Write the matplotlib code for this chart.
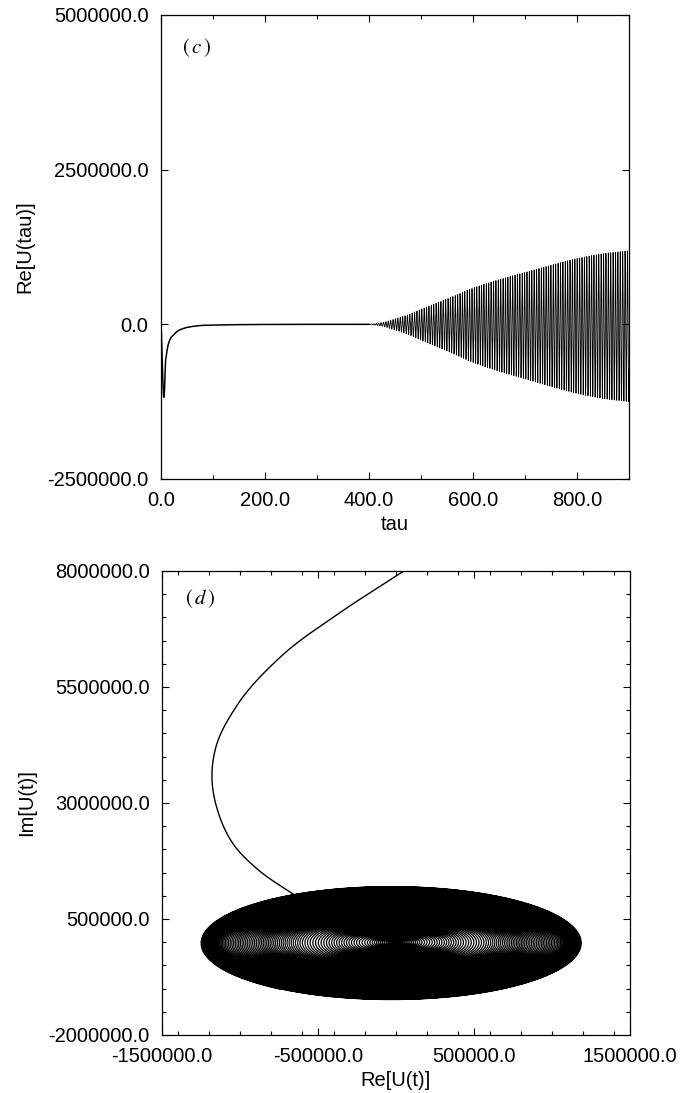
import numpy as np
import matplotlib
matplotlib.use("Agg")
import matplotlib.pyplot as plt
from matplotlib.ticker import FixedLocator, FormatStrFormatter, MultipleLocator

plt.rcParams['font.family'] = ['Liberation Sans', 'DejaVu Sans']
plt.rcParams['mathtext.fontset'] = 'stix'

# ---------------- data (units of 1e6) ----------------
# early transient of U(tau): tau, Re, Im
trans_tau = [0, 1.43, 2.84, 4.06, 4.94, 5.47, 6.18, 6.86, 7.52, 8.3,
             10, 13, 17, 23, 30, 42, 60, 75, 100, 150, 200, 300, 400]
trans_re = [0.05, -0.36, -0.74, -1.02, -1.155, -1.18, -1.14, -1.04, -0.88,
            -0.66,
            -0.52, -0.36, -0.25, -0.18, -0.12, -0.07, -0.035, -0.02, -0.012,
            -0.005, -0.002, 0.0, 0.0]
trans_im = [8.0, 7.1, 6.15, 5.1, 4.2, 3.6, 2.8, 2.1, 1.55, 1.04,
            0.75, 0.45, 0.28, 0.17, 0.10, 0.05, 0.025, 0.015, 0.008, 0.003,
            0.001, 0.0, 0.0]

# envelope of the growing oscillation
env_tau = [400, 425, 450, 475, 500, 550, 600, 650, 700, 750, 800, 850, 900]
env_amp = [0.0, 0.03, 0.09, 0.16, 0.25, 0.42, 0.60, 0.74, 0.86, 0.98, 1.09, 1.17, 1.22]
osc_period = 4.6
osc_center = (-0.03, -0.02)

# axis ticks
c_xticks = [0, 200, 400, 600, 800]
c_yticks = [-2.5e6, 0.0, 2.5e6, 5.0e6]
d_xticks = [-1.5e6, -0.5e6, 0.5e6, 1.5e6]
d_yticks = [-2.0e6, 0.5e6, 3.0e6, 5.5e6, 8.0e6]


def smooth(x, xk, yk):
    """cubic Hermite curve through the read points (for drawing only)."""
    xk = np.asarray(xk, float)
    yk = np.asarray(yk, float)
    x = np.clip(x, xk[0], xk[-1])
    m = np.gradient(yk, xk)
    i = np.clip(np.searchsorted(xk, x, side='right') - 1, 0, len(xk) - 2)
    h = xk[i + 1] - xk[i]
    s = (x - xk[i]) / h
    h00 = 2 * s**3 - 3 * s**2 + 1
    h10 = s**3 - 2 * s**2 + s
    h01 = -2 * s**3 + 3 * s**2
    h11 = s**3 - s**2
    return h00 * yk[i] + h10 * h * m[i] + h01 * yk[i + 1] + h11 * h * m[i + 1]


# ---------------- build the series ----------------
t = np.concatenate([np.linspace(0, 10, 2001)[:-1], np.linspace(10, 900, 60001)])
A = np.clip(smooth(t, env_tau, env_amp), 0, None) * 1e6
A[t < 400] = 0
ph = 2 * np.pi * t / osc_period
re_t = smooth(t, trans_tau, trans_re) * 1e6
im_t = smooth(t, trans_tau, trans_im) * 1e6
frac = A / A.max()
re = re_t + A * np.cos(ph) + osc_center[0] * 1e6 * frac
im = im_t + A * np.sin(ph) + osc_center[1] * 1e6 * frac

W, H = 682, 1093
fig = plt.figure(figsize=(W / 100, H / 100), dpi=100)


def px_axes(l, r, top, bot):
    return fig.add_axes([l / W, 1 - bot / H, (r - l) / W, (bot - top) / H])


axc = px_axes(161, 629, 15, 479)
axd = px_axes(162, 630, 571, 1035)

fs = 14.5
for ax in (axc, axd):
    for s in ax.spines.values():
        s.set_linewidth(0.9)
    ax.tick_params(which='both', direction='in', top=True, right=True,
                   labelsize=fs, pad=9, width=0.8)
    ax.tick_params(which='major', length=5)
    ax.tick_params(which='minor', length=3)

# ---- panel (c)
early = t <= 400
axc.plot(t[early], re[early], color='black', lw=1.1)
late = t >= 400
axc.plot(t[late], re[late], color='black', lw=0.6)
axc.set_xlim(0, 900)
axc.set_ylim(-2.5e6, 5.0e6)
axc.xaxis.set_major_locator(FixedLocator(c_xticks))
axc.xaxis.set_minor_locator(MultipleLocator(100))
axc.yaxis.set_major_locator(FixedLocator(c_yticks))
axc.xaxis.set_major_formatter(FormatStrFormatter('%.1f'))
axc.yaxis.set_major_formatter(FormatStrFormatter('%.1f'))
axc.set_xlabel('tau', fontsize=fs, labelpad=3)
axc.set_ylabel('Re[U(tau)]', fontsize=fs)
axc.yaxis.set_label_coords(-0.27, 0.5)
axc.text(0.045, 0.93, r'$(\,c\,)$', transform=axc.transAxes, fontsize=15,
         va='center', ha='left')

# ---- panel (d)
axd.plot(re[early], im[early], color='black', lw=1.0)
axd.plot(re[late], im[late], color='black', lw=0.9)
axd.set_xlim(-1.5e6, 1.5e6)
axd.set_ylim(-2.0e6, 8.0e6)
axd.xaxis.set_major_locator(FixedLocator(d_xticks))
axd.xaxis.set_minor_locator(MultipleLocator(2e5))
axd.yaxis.set_major_locator(FixedLocator(d_yticks))
axd.yaxis.set_minor_locator(MultipleLocator(5e5))
axd.xaxis.set_major_formatter(FormatStrFormatter('%.1f'))
axd.yaxis.set_major_formatter(FormatStrFormatter('%.1f'))
axd.set_xlabel('Re[U(t)]', fontsize=fs, labelpad=3)
axd.set_ylabel('Im[U(t)]', fontsize=fs)
axd.yaxis.set_label_coords(-0.27, 0.5)
axd.text(0.05, 0.94, r'$(\,d\,)$', transform=axd.transAxes, fontsize=15,
         va='center', ha='left')

fig.savefig('out.png', dpi=100)
